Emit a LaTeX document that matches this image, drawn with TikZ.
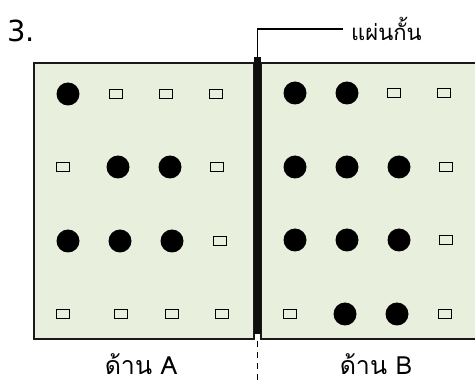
\documentclass[tikz,border=0pt]{standalone}
\usepackage{fontspec}
\newfontfamily\thaifont[Script=Thai]{Loma}
\setmainfont{DejaVu Sans}
\definecolor{boxfill}{RGB}{232,239,220}
\tikzset{
  bead/.style={circle,fill=black,minimum size=23pt,inner sep=0pt},
  sq/.style={rectangle,draw=black,line width=1.3pt,minimum width=13pt,minimum height=9.5pt,inner sep=0pt},
  boxline/.style={line width=1.4pt,draw=black!90},
  lbl/.style={font=\thaifont\fontsize{22}{24}\selectfont,inner sep=0pt},
  side/.style={font=\thaifont\fontsize{25}{27}\selectfont,inner sep=0pt,text depth=0pt,anchor=base}
}
\begin{document}
\begin{tikzpicture}[x=1pt,y=-1pt]
\useasboundingbox (0,0) rectangle (475,385);
% boxes
\fill[boxfill] (34,63) rectangle (254,339);
\fill[boxfill] (261,63) rectangle (480,339);
\draw[boxline] (34,63) rectangle (254,339);
\draw[boxline] (480,63) -- (261,63) -- (261,339) -- (480,339);
% barrier
\node[rectangle,fill=black!95,minimum width=7pt,minimum height=277pt,inner sep=0pt,anchor=north] (bar) at (257.5,57) {};
\node[lbl,anchor=west] (plate) at (351,29) {แผ่นกั้น};
\draw[line width=1.3pt] (bar.north) |- (plate.west -| 343,29) coordinate (lend);
\coordinate (dtop) at (257.5,341);
\coordinate (dbot) at (257.5,385);
\draw[line width=1.3pt,dash pattern=on 6pt off 5pt] (dtop) -- (dbot);
% labels
\node[font=\fontsize{29}{31}\selectfont,inner sep=0pt,anchor=base west] (num) at (7,42) {3.};
\node[side] (sideA) at (141,375) {ด้าน A};
\node[side] (sideB) at (376,375) {ด้าน B};
% side A
\node[bead] (a11) at (68,94) {};
\node[sq] (a12) at (116,94) {};
\node[sq] (a13) at (166,94) {};
\node[sq] (a14) at (216,94) {};
\node[sq] (a21) at (63,167) {};
\node[bead] (a22) at (118,167) {};
\node[bead] (a23) at (170,167) {};
\node[sq] (a24) at (217,167) {};
\node[bead] (a31) at (68,241) {};
\node[bead] (a32) at (120,241) {};
\node[bead] (a33) at (172,241) {};
\node[sq] (a34) at (220,241) {};
\node[sq] (a41) at (63,314) {};
\node[sq] (a42) at (121,314) {};
\node[sq] (a43) at (172,314) {};
\node[sq] (a44) at (222,314) {};
% side B
\node[bead] (b11) at (295,93) {};
\node[bead] (b12) at (347,93) {};
\node[sq] (b13) at (394,93) {};
\node[sq] (b14) at (444,93) {};
\node[bead] (b21) at (295,167) {};
\node[bead] (b22) at (347,167) {};
\node[bead] (b23) at (399,167) {};
\node[sq] (b24) at (446,167) {};
\node[bead] (b31) at (295,240) {};
\node[bead] (b32) at (347,240) {};
\node[bead] (b33) at (399,240) {};
\node[sq] (b34) at (446,240) {};
\node[sq] (b41) at (290,314) {};
\node[bead] (b42) at (345,314) {};
\node[bead] (b43) at (397,314) {};
\node[sq] (b44) at (445,314) {};
\end{tikzpicture}
\end{document}
